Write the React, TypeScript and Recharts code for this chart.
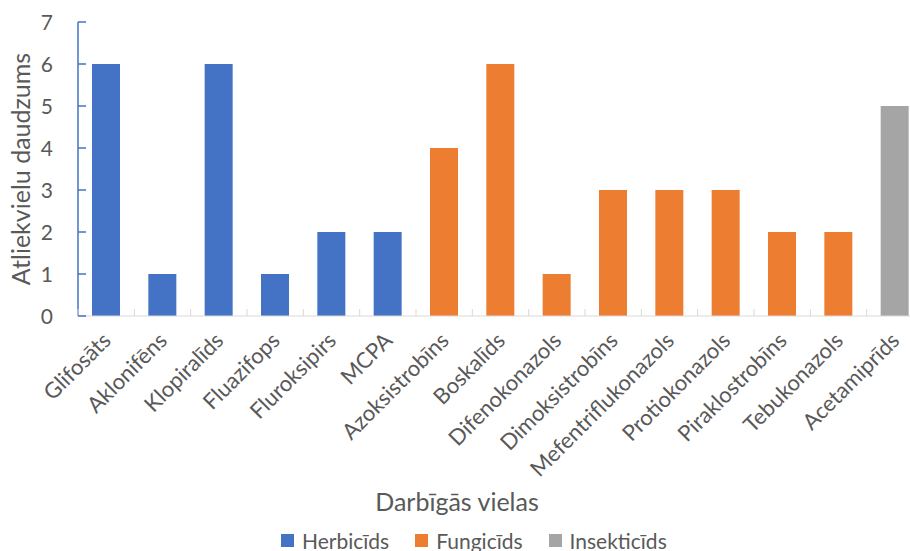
import React from 'react';
import { BarChart, Bar, XAxis, YAxis, Legend } from 'recharts';

const herbicides = ['Glifosāts', 'Aklonifēns', 'Klopiralīds', 'Fluazifops', 'Fluroksipirs', 'MCPA'];
const herbicideCounts = [6, 1, 6, 1, 2, 2];

const fungicides = [
  'Azoksistrobīns',
  'Boskalīds',
  'Difenokonazols',
  'Dimoksistrobīns',
  'Mefentriflukonazols',
  'Protiokonazols',
  'Piraklostrobīns',
  'Tebukonazols',
];
const fungicideCounts = [4, 6, 1, 3, 3, 3, 2, 2];

const insecticides = ['Acetamiprīds'];
const insecticideCounts = [5];

const groupNames = ['Herbicīds', 'Fungicīds', 'Insekticīds'];
const groupColors = ['#4472C4', '#ED7D31', '#A5A5A5'];
const yTicks = [0, 1, 2, 3, 4, 5, 6, 7];

const data = [
  ...herbicides.map((name, i) => ({ name, herb: herbicideCounts[i] })),
  ...fungicides.map((name, i) => ({ name, fung: fungicideCounts[i] })),
  ...insecticides.map((name, i) => ({ name, ins: insecticideCounts[i] })),
];

const FONT = 'Lato, "Open Sans", sans-serif';
const TEXT = '#595959';

const W = 934;
const H = 551;
const LEFT = 78;
const RIGHT = 11;
const BAND = (W - LEFT - RIGHT) / data.length;
const X_MARGIN = 26;
const Y_MARGIN = 25;

function XTick(props: any) {
  const { x, y, payload } = props;
  const axisY = y - X_MARGIN;
  const bx = x - BAND / 2;
  return (
    <g>
      <line x1={bx} x2={bx} y1={axisY} y2={axisY - 7} stroke="#D9D9D9" strokeWidth={1} />
      <text
        x={x + 6}
        y={y}
        textAnchor="end"
        fill={TEXT}
        fontSize={22}
        fontFamily={FONT}
        transform={`rotate(-45, ${x + 6}, ${y})`}
      >
        {payload.value}
      </text>
    </g>
  );
}

function YTick(props: any) {
  const { x, y, payload } = props;
  const ax = x + Y_MARGIN;
  return (
    <g>
      <line x1={ax} x2={ax + 8} y1={y} y2={y} stroke="#4472C4" strokeWidth={1.5} />
      <text x={x} y={y} dy="0.36em" textAnchor="end" fill={TEXT} fontSize={21} fontFamily={FONT}>
        {payload.value}
      </text>
    </g>
  );
}

function LegendBox() {
  return (
    <div
      style={{
        display: 'flex',
        alignItems: 'center',
        paddingLeft: 281,
        height: 30,
        paddingTop: 8,
        boxSizing: 'border-box',
        fontFamily: FONT,
        fontSize: 21,
        color: TEXT,
      }}
    >
      {groupNames.map((g, i) => (
        <div key={g} style={{ display: 'flex', alignItems: 'center', marginRight: 26 }}>
          <span style={{ width: 13, height: 13, background: groupColors[i], marginRight: 8 }} />
          <span>{g}</span>
        </div>
      ))}
    </div>
  );
}

export default function App() {
  return (
    <div style={{ position: 'absolute', left: 0, top: 0, width: 910, height: 551, overflow: 'hidden', background: '#fff' }}>
      <BarChart width={W} height={H} data={data} margin={{ top: 22, right: RIGHT, left: 0, bottom: 0 }}>
        <XAxis
          dataKey="name"
          interval={0}
          height={205}
          stroke="#D9D9D9"
          tickLine={false}
          tickSize={0}
          tickMargin={X_MARGIN}
          tick={<XTick />}
          label={{
            content: (p: any) => (
              <text
                x={p.viewBox.x + 379}
                y={p.viewBox.y + 185}
                dominantBaseline="central"
                textAnchor="middle"
                fill={TEXT}
                fontSize={25}
                fontFamily={FONT}
              >
                Darbīgās vielas
              </text>
            ),
          }}
        />
        <YAxis
          width={LEFT}
          domain={[0, 7]}
          ticks={yTicks}
          interval={0}
          stroke="#4472C4"
          strokeWidth={1.5}
          tickLine={false}
          tickSize={0}
          tickMargin={Y_MARGIN}
          tick={<YTick />}
          label={{
            content: (p: any) => {
              const cx = 20;
              const cy = p.viewBox.y + p.viewBox.height / 2;
              return (
                <text
                  x={cx}
                  y={cy}
                  dominantBaseline="central"
                  textAnchor="middle"
                  fill={TEXT}
                  fontSize={25}
                  fontFamily={FONT}
                  transform={`rotate(-90, ${cx}, ${cy})`}
                >
                  Atliekvielu daudzums
                </text>
              );
            },
          }}
        />
        <Legend verticalAlign="bottom" height={30} content={<LegendBox />} />
        <Bar dataKey="herb" name={groupNames[0]} stackId="a" fill={groupColors[0]} barSize={28} isAnimationActive={false} />
        <Bar dataKey="fung" name={groupNames[1]} stackId="a" fill={groupColors[1]} barSize={28} isAnimationActive={false} />
        <Bar dataKey="ins" name={groupNames[2]} stackId="a" fill={groupColors[2]} barSize={28} isAnimationActive={false} />
      </BarChart>
    </div>
  );
}
